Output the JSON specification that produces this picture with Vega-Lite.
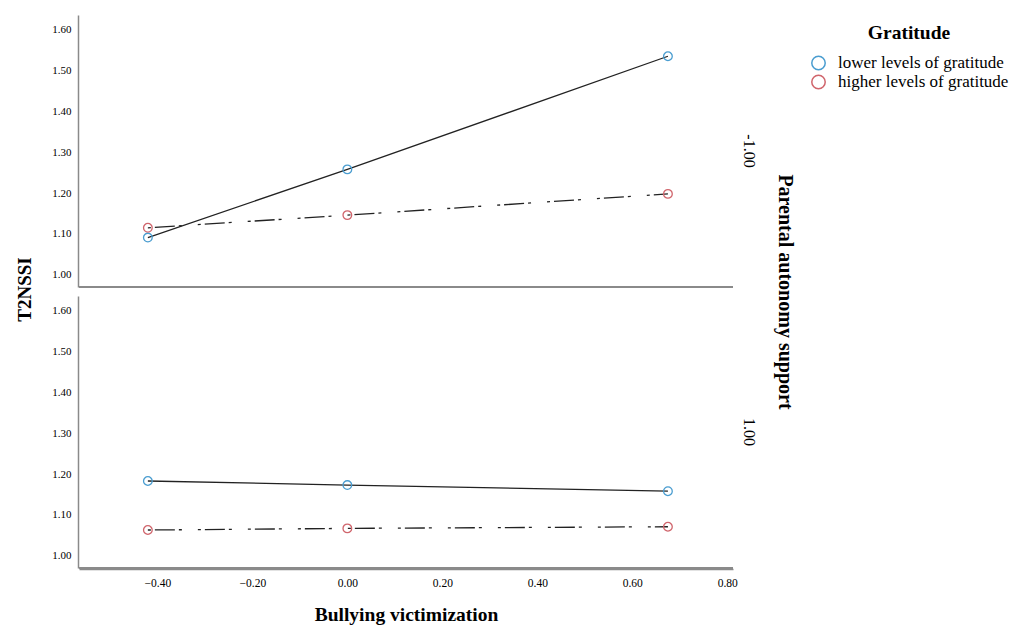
{
  "$schema": "https://vega.github.io/schema/vega-lite/v6.json",
  "autosize": {"type": "none"},
  "padding": {"left": 79, "top": 15, "right": 934, "bottom": 611},
  "config": {"font": "Liberation Serif", "view": {"stroke": null}},
  "title": {"text": "T2NSSI", "orient": "left", "anchor": "middle", "frame": "bounds", "fontSize": 19, "fontWeight": "bold", "color": "black", "offset": 17, "dx": 30, "font": "Liberation Serif"},
  "data": {"values": [
    {"pas": "-1.00", "grat": "lower levels of gratitude", "bv": -0.42, "nssi": 1.091},
    {"pas": "-1.00", "grat": "lower levels of gratitude", "bv": 0.0, "nssi": 1.258},
    {"pas": "-1.00", "grat": "lower levels of gratitude", "bv": 0.675, "nssi": 1.535},
    {"pas": "-1.00", "grat": "higher levels of gratitude", "bv": -0.42, "nssi": 1.115},
    {"pas": "-1.00", "grat": "higher levels of gratitude", "bv": 0.0, "nssi": 1.146},
    {"pas": "-1.00", "grat": "higher levels of gratitude", "bv": 0.675, "nssi": 1.198},
    {"pas": "1.00", "grat": "lower levels of gratitude", "bv": -0.42, "nssi": 1.183},
    {"pas": "1.00", "grat": "lower levels of gratitude", "bv": 0.0, "nssi": 1.173},
    {"pas": "1.00", "grat": "lower levels of gratitude", "bv": 0.675, "nssi": 1.158},
    {"pas": "1.00", "grat": "higher levels of gratitude", "bv": -0.42, "nssi": 1.063},
    {"pas": "1.00", "grat": "higher levels of gratitude", "bv": 0.0, "nssi": 1.067},
    {"pas": "1.00", "grat": "higher levels of gratitude", "bv": 0.675, "nssi": 1.071}
  ]},
  "facet": {
    "row": {
      "field": "pas", "type": "nominal", "sort": ["-1.00", "1.00"],
      "title": "Parental autonomy support",
      "header": {
        "labelOrient": "right", "labelAngle": 90, "labelFontSize": 16, "labelPadding": 7, "labelColor": "black",
        "titleOrient": "right", "titleAngle": 90, "titleFontSize": 20, "titleFontWeight": "bold", "titlePadding": 8, "titleColor": "black"
      }
    }
  },
  "spacing": 8,
  "spec": {
    "width": 654,
    "height": 272,
    "encoding": {
      "x": {"field": "bv", "type": "quantitative", "scale": {"domain": [-0.565, 0.812], "nice": false, "zero": false},
        "axis": {"values": [-0.4, -0.2, 0, 0.2, 0.4, 0.6, 0.8], "format": ".2f", "ticks": false, "grid": false,
          "domainColor": "#8a8a8a", "domainWidth": 1.5, "labelFontSize": 11.5, "labelPadding": 8, "labelColor": "black",
          "title": "Bullying victimization", "titleFontSize": 19.5, "titleFontWeight": "bold", "titlePadding": 17, "titleColor": "black"}},
      "y": {"field": "nssi", "type": "quantitative", "scale": {"domain": [0.97, 1.636], "nice": false, "zero": false},
        "axis": {"values": [1.0, 1.1, 1.2, 1.3, 1.4, 1.5, 1.6], "format": ".2f", "ticks": false, "grid": false,
          "domainColor": "#8a8a8a", "domainWidth": 1.5, "labelFontSize": 11, "labelPadding": 7, "labelColor": "black",
          "title": null}}
    },
    "layer": [
      {
        "mark": {"type": "rule", "color": "#8a8a8a", "strokeWidth": 1.5},
        "encoding": {"x": null, "y": {"datum": 0.97, "type": "quantitative"}}
      },
      {
        "transform": [{"filter": "datum.grat === 'lower levels of gratitude'"}],
        "mark": {"type": "line", "color": "#222222", "strokeWidth": 1.3},
        "encoding": {}
      },
      {
        "transform": [{"filter": "datum.grat === 'higher levels of gratitude'"}],
        "mark": {"type": "line", "color": "#222222", "strokeWidth": 1.3, "strokeDash": [3, 4, 20, 4, 3, 16]},
        "encoding": {}
      },
      {
        "mark": {"type": "point", "filled": false, "size": 75, "strokeWidth": 1.3, "opacity": 1},
        "encoding": {
          "color": {"field": "grat", "type": "nominal",
            "scale": {"domain": ["lower levels of gratitude", "higher levels of gratitude"], "range": ["#4a9dd0", "#d0656c"]},
            "legend": {"orient": "right", "offset": 6, "padding": 9, "title": "Gratitude", "titleFontSize": 19.5,
              "titleFontWeight": "bold", "titleAnchor": "middle", "titleColor": "black", "titlePadding": 11,
              "labelFontSize": 17, "labelColor": "black", "labelOffset": 11, "labelLimit": 0, "symbolSize": 180, "symbolStrokeWidth": 1.5,
              "symbolType": "circle", "rowPadding": -5}}
        }
      }
    ]
  }
}
